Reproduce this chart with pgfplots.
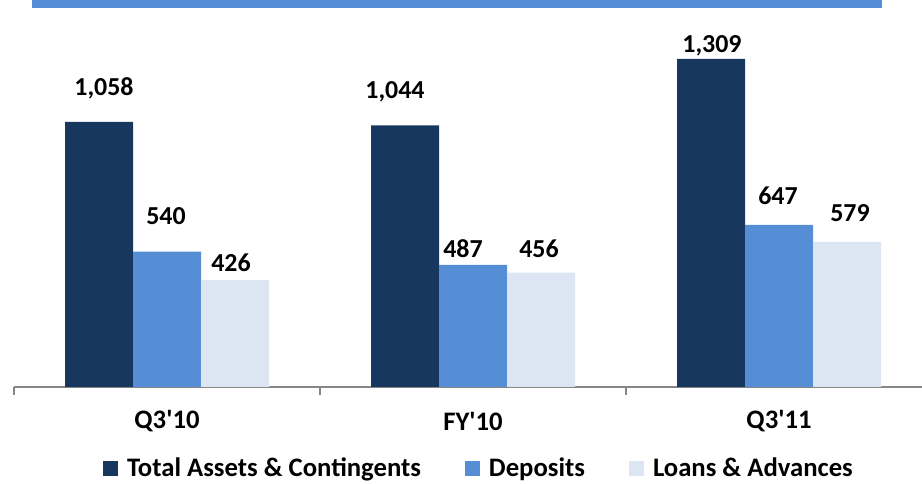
\documentclass[border=0pt]{standalone}
\usepackage{pgfplots}
\pgfplotsset{compat=1.18}
\usepackage{pgfplotstable}
\usepackage{fontspec}
\setmainfont{Carlito}
\definecolor{dark}{HTML}{17375E}
\definecolor{med}{HTML}{558ED5}
\definecolor{lite}{HTML}{DCE6F2}
\definecolor{axgray}{HTML}{868686}

% x value dx dy (label offsets in bp)
\pgfplotstableread{
x y dx dy
0 1058 5 34
1 1044 -10 34
2 1309 1 13
}\tabA
\pgfplotstableread{
x y dx dy
0 540 -1 36
1 487 -10 16
2 647 -1 29
}\tabB
\pgfplotstableread{
x y dx dy
0 426 -4 17
1 456 -2 24
2 579 3 29
}\tabC

\newcommand{\bigbf}{\bfseries\fontsize{26}{30}\selectfont}
\newcommand{\legbf}{\bfseries\fontsize{26.8}{30}\selectfont}

\begin{document}
\begin{tikzpicture}
\useasboundingbox (0,0) rectangle (922bp,484bp);
\fill[med] (32bp,476bp) rectangle (882bp,484bp);
\begin{axis}[
  at={(14bp,97bp)}, anchor=south west,
  scale only axis, width=918bp, height=387bp,
  xmin=-0.5, xmax=2.5, ymin=0, ymax=1544,
  axis x line*=bottom, axis y line=none,
  x axis line style={axgray, line width=1.2bp, -},
  xtick={0,1,2}, xticklabels={Q3\textquotesingle10,FY\textquotesingle10,Q3\textquotesingle11},
  minor xtick={-0.5,0.5,1.5,2.5},
  major tick length=0pt, minor tick length=8bp,
  tick align=outside,
  tick style={axgray, line width=1.2bp},
  xticklabel style={font=\legbf, anchor=center, yshift=-34bp, inner sep=0pt},
  ybar=0pt, bar width=68bp,
  /pgf/number format/assume math mode=true,
  nodes near coords,
  nodes near coords style={font=\bigbf, text=black},
  legend columns=3,
  legend style={at={(0.5054,-0.2093)}, anchor=center, draw=none, fill=none,
    font=\legbf, inner sep=0pt, nodes={inner sep=0pt},
    /tikz/every odd column/.style={column sep=9bp},
    /tikz/every even column/.style={column sep=44bp}},
  sq/.style={legend image code/.code={\fill[##1] (0bp,-7.5bp) rectangle (15bp,7.5bp);}},
  lab/.style={visualization depends on={\thisrow{dx} \as \dx},
    visualization depends on={\thisrow{dy} \as \dy},
    every node near coord/.append style={anchor=center, inner sep=0pt, xshift=\dx*1bp, yshift=\dy*1bp}},
]
\addplot[fill=dark, draw=none, lab, sq] table[x=x,y=y] {\tabA};
\addlegendentry{Total Assets \& Contingents}
\addplot[fill=med, draw=none, lab, sq] table[x=x,y=y] {\tabB};
\addlegendentry{Deposits}
\addplot[fill=lite, draw=none, lab, sq] table[x=x,y=y] {\tabC};
\addlegendentry{Loans \& Advances}
\end{axis}
\end{tikzpicture}
\end{document}
